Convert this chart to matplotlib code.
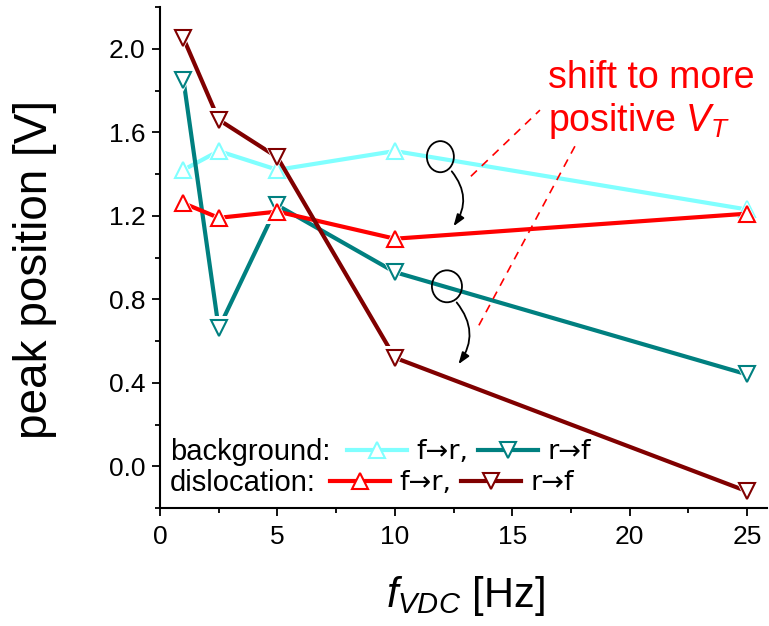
import matplotlib
matplotlib.use('Agg')
import matplotlib.pyplot as plt
from matplotlib.ticker import MultipleLocator, FormatStrFormatter
from matplotlib.patches import Ellipse, FancyArrowPatch
from matplotlib.lines import Line2D

plt.rcParams['font.family'] = ['Liberation Sans', 'DejaVu Sans']
plt.rcParams['mathtext.fontset'] = 'custom'
plt.rcParams['mathtext.rm'] = 'Liberation Sans'
plt.rcParams['mathtext.it'] = 'Liberation Sans:italic'

# ---- data ----
freq = [1, 2.5, 5, 10, 25]
bg_f2r = [1.42, 1.51, 1.42, 1.51, 1.23]
bg_r2f = [1.85, 0.66, 1.25, 0.93, 0.44]
dis_f2r = [1.26, 1.19, 1.22, 1.09, 1.21]
dis_r2f = [2.05, 1.66, 1.48, 0.52, -0.12]

c_bg_f2r = '#80FFFF'
c_bg_r2f = '#008080'
c_dis_f2r = '#FF0000'
c_dis_r2f = '#800000'

x_ticks = [0, 5, 10, 15, 20, 25]
y_ticks = [0.0, 0.4, 0.8, 1.2, 1.6, 2.0]

# annotation geometry (data units)
circle1 = (11.94, 1.483, 1.15, 0.149)
circle2 = (12.22, 0.862, 1.28, 0.153)
arrow1 = ((12.35, 1.423), (12.43, 1.139))
arrow2 = ((12.56, 0.795), (12.64, 0.478))
dash1_x, dash1_y = [13.24, 16.18], [1.389, 1.706]
dash2_x, dash2_y = [17.67, 13.58], [1.533, 0.675]

fig = plt.figure(figsize=(7.69, 6.26), dpi=100)
ax = fig.add_axes([160/769, 1-508/626, 607/769, 501/626])

ms = 11
lw = 3

def series(y, color, marker, z):
    ax.plot(freq, y, color=color, lw=lw, zorder=z, solid_capstyle='butt')
    ax.plot(freq, y, ls='none', marker=marker, ms=ms+6, mfc='white', mec='white',
            mew=0, zorder=z+0.1)
    ax.plot(freq, y, ls='none', marker=marker, ms=ms, mfc='white', mec=color,
            mew=1.5, zorder=z+0.2)

series(bg_f2r, c_bg_f2r, '^', 2)
series(bg_r2f, c_bg_r2f, 'v', 3)
series(dis_f2r, c_dis_f2r, '^', 4)
series(dis_r2f, c_dis_r2f, 'v', 5)

ax.set_xlim(0, 25.85)
ax.set_ylim(-0.2, 2.2)
ax.set_xticks(x_ticks)
ax.set_yticks(y_ticks)
ax.xaxis.set_minor_locator(MultipleLocator(2.5))
ax.yaxis.set_minor_locator(MultipleLocator(0.2))
ax.yaxis.set_major_formatter(FormatStrFormatter('%.1f'))
for s in ['top', 'right']:
    ax.spines[s].set_visible(False)
for s in ['left', 'bottom']:
    ax.spines[s].set_linewidth(1.5)
ax.tick_params(axis='both', which='major', direction='out', length=5.5, width=1.3,
               labelsize=19, pad=5)
ax.tick_params(axis='both', which='minor', direction='out', length=3.5, width=1.3)
ax.tick_params(axis='x', which='major', pad=7)

# annotations
for (cx, cy, w, h) in [circle1, circle2]:
    ax.add_patch(Ellipse((cx, cy), w, h, fill=False, ec='black', lw=1.3, zorder=7))
for (a, b) in [arrow1, arrow2]:
    ax.add_patch(FancyArrowPatch(a, b, connectionstyle='arc3,rad=-0.4',
                                 arrowstyle='-|>,head_length=7,head_width=2.5',
                                 color='black', lw=1.3, zorder=7))
ax.plot(dash1_x, dash1_y, color='red', lw=1.2, ls=(0, (5, 4)), zorder=6)
ax.plot(dash2_x, dash2_y, color='red', lw=1.2, ls=(0, (5, 4)), zorder=6)

ax.text(16.52, 1.811, 'shift to more', color='red', fontsize=27, va='baseline', ha='left')
ax.text(16.52, 1.605, 'positive $V_T$', color='red', fontsize=27, va='baseline', ha='left')

# legend
def mk(color, marker):
    return Line2D([], [], color=color, lw=lw, marker=marker, ms=ms, mfc='white',
                  mec=color, mew=1.5)

lab_f2r = 'f\u2192r,'
lab_r2f = 'r\u2192f'
leg_kw = dict(ncol=2, prop={'family': 'DejaVu Sans', 'size': 19.5},
              handlelength=2.2, handletextpad=0.36,
              columnspacing=0.36, borderpad=0, borderaxespad=0, frameon=False,
              loc='center left')
leg1 = ax.legend([mk(c_bg_f2r, '^'), mk(c_bg_r2f, 'v')], [lab_f2r, lab_r2f],
                 bbox_to_anchor=((347-160)/607, (508-452)/501), **leg_kw)
ax.add_artist(leg1)
leg2 = ax.legend([mk(c_dis_f2r, '^'), mk(c_dis_r2f, 'v')], [lab_f2r, lab_r2f],
                 bbox_to_anchor=((330-160)/607, (508-483)/501), **leg_kw)
ax.text((170-160)/607, (508-452)/501, 'background:', transform=ax.transAxes,
        fontsize=21, va='center', ha='left')
ax.text((170-160)/607, (508-483)/501, 'dislocation:', transform=ax.transAxes,
        fontsize=21, va='center', ha='left')

fig.text(35/769, 1-270/626, 'peak position [V]', rotation=90, ha='center',
         va='center', fontsize=33)
fig.text(465/769, 1-607/626, r'$f_{VDC}$ [Hz]', ha='center', va='baseline', fontsize=30)

fig.savefig('out.png', dpi=100)
